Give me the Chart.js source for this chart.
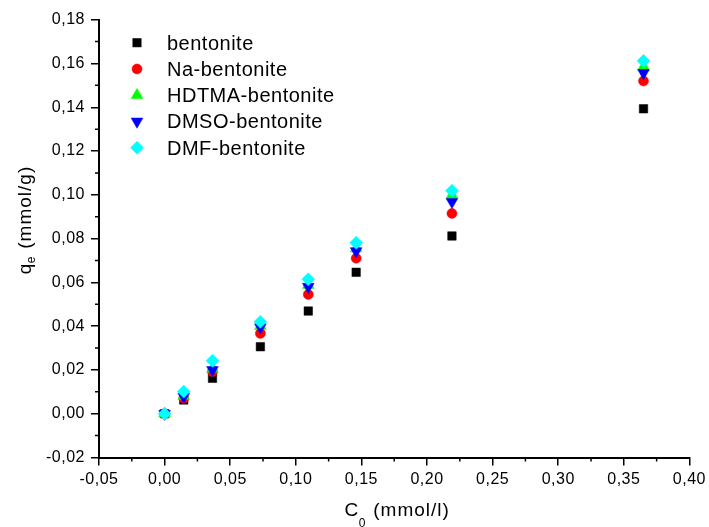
<!DOCTYPE html>
<html>
<head>
<meta charset="utf-8">
<script src="https://cdn.jsdelivr.net/npm/chart.js@4.4.0/dist/chart.umd.min.js"></script>
<style>
  html, body { margin: 0; padding: 0; background: #fff; }
  canvas { display: block; }
</style>
</head>
<body>
<canvas id="chart" width="709" height="527"></canvas>
<script>
// Initial concentration C0 (mmol/l)
const C0 = [0, 0.0146, 0.0365, 0.073, 0.1095, 0.146, 0.219, 0.365];

// Adsorbed amount qe (mmol/g) for each sorbent
const qBentonite   = [0, 0.0063, 0.0162, 0.0306, 0.0469, 0.0646, 0.0812, 0.1393];
const qNaBentonite = [0, 0.0070, 0.0192, 0.0367, 0.0545, 0.0710, 0.0915, 0.1520];
const qHdtma       = [0, 0.0080, 0.0205, 0.0400, 0.0588, 0.0755, 0.0999, 0.1585];
const qDmso        = [0, 0.0078, 0.0200, 0.0395, 0.0580, 0.0743, 0.0968, 0.1557];
const qDmf         = [0, 0.0101, 0.0242, 0.0420, 0.0614, 0.0781, 0.1019, 0.1612];

const seriesNames = ['bentonite', 'Na-bentonite', 'HDTMA-bentonite', 'DMSO-bentonite', 'DMF-bentonite'];

const xTickLabels = ['-0,05', '0,00', '0,05', '0,10', '0,15', '0,20', '0,25', '0,30', '0,35', '0,40'];
const yTickLabels = ['-0,02', '0,00', '0,02', '0,04', '0,06', '0,08', '0,10', '0,12', '0,14', '0,16', '0,18'];

const FONT = '"Liberation Sans", Arial, Helvetica, sans-serif';
Chart.defaults.font.family = FONT;
Chart.defaults.color = '#000';

const toPoints = ys => C0.map((x, i) => ({ x: x, y: ys[i] }));

const styles = [
  { color: '#000000', pointStyle: 'rect',     rotation: 0,   radius: 6.0 },
  { color: '#ff0000', pointStyle: 'circle',   rotation: 0,   radius: 5.0 },
  { color: '#00ff00', pointStyle: 'triangle', rotation: 0,   radius: 6.8 },
  { color: '#0000ff', pointStyle: 'triangle', rotation: 180, radius: 6.8 },
  { color: '#00ffff', pointStyle: 'rectRot',  rotation: 0,   radius: 6.5 }
];

const seriesValues = [qBentonite, qNaBentonite, qHdtma, qDmso, qDmf];

const datasets = seriesValues.map((ys, i) => ({
  label: seriesNames[i],
  data: toPoints(ys),
  showLine: false,
  pointStyle: styles[i].pointStyle,
  rotation: styles[i].rotation,
  pointRadius: styles[i].radius,
  pointHoverRadius: styles[i].radius,
  pointBackgroundColor: styles[i].color,
  pointBorderColor: styles[i].color,
  pointBorderWidth: 0.5,
  order: seriesValues.length - i   // later series are drawn on top
}));

function drawMarker(ctx, st, x, y) {
  ctx.save();
  ctx.fillStyle = st.color;
  ctx.strokeStyle = st.color;
  ctx.lineWidth = 0.5;
  if (Chart.helpers && Chart.helpers.drawPoint) {
    Chart.helpers.drawPoint(ctx, { pointStyle: st.pointStyle, rotation: st.rotation, radius: st.radius, borderWidth: 0.5 }, x, y);
  } else {
    const r = st.radius;
    ctx.beginPath();
    if (st.pointStyle === 'rect') {
      const s = r * Math.SQRT1_2;
      ctx.rect(x - s, y - s, 2 * s, 2 * s);
    } else if (st.pointStyle === 'circle') {
      ctx.arc(x, y, r, 0, Math.PI * 2);
    } else if (st.pointStyle === 'rectRot') {
      ctx.moveTo(x, y - r); ctx.lineTo(x + r, y); ctx.lineTo(x, y + r); ctx.lineTo(x - r, y);
    } else {
      const d = st.rotation === 180 ? -1 : 1;
      ctx.moveTo(x, y - d * r);
      ctx.lineTo(x + r * 0.866, y + d * r / 2);
      ctx.lineTo(x - r * 0.866, y + d * r / 2);
    }
    ctx.closePath();
    ctx.fill();
    ctx.stroke();
  }
  ctx.restore();
}

// Minor ticks, axis titles and the in-plot legend
const decorations = {
  id: 'decorations',
  beforeDraw(chart) {
    chart.ctx.letterSpacing = '0.5px';
  },
  afterDraw(chart) {
    const ctx = chart.ctx;
    const xs = chart.scales.x, ys = chart.scales.y;
    const area = chart.chartArea;

    ctx.save();
    ctx.strokeStyle = '#000';
    ctx.lineWidth = 1.5;
    ctx.beginPath();
    for (let k = 0; k < xTickLabels.length - 1; k++) {
      const v = xs.min + (k + 0.5) * 0.05;
      const px = xs.getPixelForValue(v);
      ctx.moveTo(px, area.bottom);
      ctx.lineTo(px, area.bottom + 4);
    }
    for (let k = 0; k < yTickLabels.length - 1; k++) {
      const v = ys.min + (k + 0.5) * 0.02;
      const py = ys.getPixelForValue(v);
      ctx.moveTo(area.left, py);
      ctx.lineTo(area.left - 4, py);
    }
    ctx.stroke();
    ctx.restore();

    const big = '19px ' + FONT, small = '12px ' + FONT;

    // x axis title: C0 (mmol/l)
    ctx.save();
    ctx.fillStyle = '#000';
    ctx.letterSpacing = '1px';
    ctx.textBaseline = 'alphabetic';
    ctx.textAlign = 'left';
    ctx.font = big;  const wC = ctx.measureText('C').width;
    ctx.font = small; const w0 = ctx.measureText('0').width;
    ctx.font = big;  const wR = ctx.measureText(' (mmol/l)').width;
    const x0 = (area.left + area.right) / 2 + 3 - (wC + w0 + wR) / 2;
    const base = 515.5;
    ctx.font = big;  ctx.fillText('C', x0, base);
    ctx.font = small; ctx.fillText('0', x0 + wC - 0.5, base + 11);
    ctx.font = big;  ctx.fillText(' (mmol/l)', x0 + wC + w0, base);
    ctx.restore();

    // y axis title: qe (mmol/g)
    ctx.save();
    ctx.fillStyle = '#000';
    ctx.letterSpacing = '1px';
    ctx.translate(31, 220);
    ctx.rotate(-Math.PI / 2);
    ctx.textBaseline = 'alphabetic';
    ctx.textAlign = 'left';
    ctx.font = big;  const wq = ctx.measureText('q').width;
    ctx.font = small; const we = ctx.measureText('e').width;
    ctx.font = big;  const wu = ctx.measureText(' (mmol/g)').width;
    const s0 = -(wq + we + wu) / 2;
    ctx.font = big;  ctx.fillText('q', s0, 0);
    ctx.font = small; ctx.fillText('e', s0 + wq - 0.5, 4);
    ctx.font = big;  ctx.fillText(' (mmol/g)', s0 + wq + we, 0);
    ctx.restore();

    // legend
    ctx.save();
    ctx.fillStyle = '#000';
    ctx.letterSpacing = '0.5px';
    ctx.font = '20px ' + FONT;
    ctx.textAlign = 'left';
    ctx.textBaseline = 'alphabetic';
    seriesNames.forEach((name, i) => {
      const ry = 42.7 + i * 26.25;
      drawMarker(ctx, styles[i], 137, ry);
      ctx.fillText(name, 167, ry + 7);
    });
    ctx.restore();
  }
};

new Chart(document.getElementById('chart'), {
  type: 'scatter',
  data: { datasets: datasets },
  options: {
    responsive: false,
    devicePixelRatio: 1,
    animation: false,
    events: [],
    layout: { padding: { top: 19.7, right: 17, bottom: 0, left: 0 } },
    plugins: { legend: { display: false }, tooltip: { enabled: false } },
    scales: {
      x: {
        type: 'linear',
        min: -0.05,
        max: 0.40,
        afterFit: s => { s.height = 69.5; },
        border: { display: true, color: '#000', width: 2 },
        grid: { drawOnChartArea: false, drawTicks: true, tickLength: 8, color: '#000', lineWidth: 1.5 },
        ticks: {
          stepSize: 0.05,
          padding: 4,
          maxRotation: 0,
          autoSkip: false,
          font: { size: 16 },
          color: '#000',
          callback: (v, i) => xTickLabels[i]
        }
      },
      y: {
        type: 'linear',
        min: -0.02,
        max: 0.18,
        afterFit: s => { s.width = 99; },
        border: { display: true, color: '#000', width: 2 },
        grid: { drawOnChartArea: false, drawTicks: true, tickLength: 8, color: '#000', lineWidth: 1.5 },
        ticks: {
          stepSize: 0.02,
          padding: 6,
          autoSkip: false,
          font: { size: 16 },
          color: '#000',
          callback: (v, i) => yTickLabels[i]
        }
      }
    }
  },
  plugins: [decorations]
});
</script>
</body>
</html>
